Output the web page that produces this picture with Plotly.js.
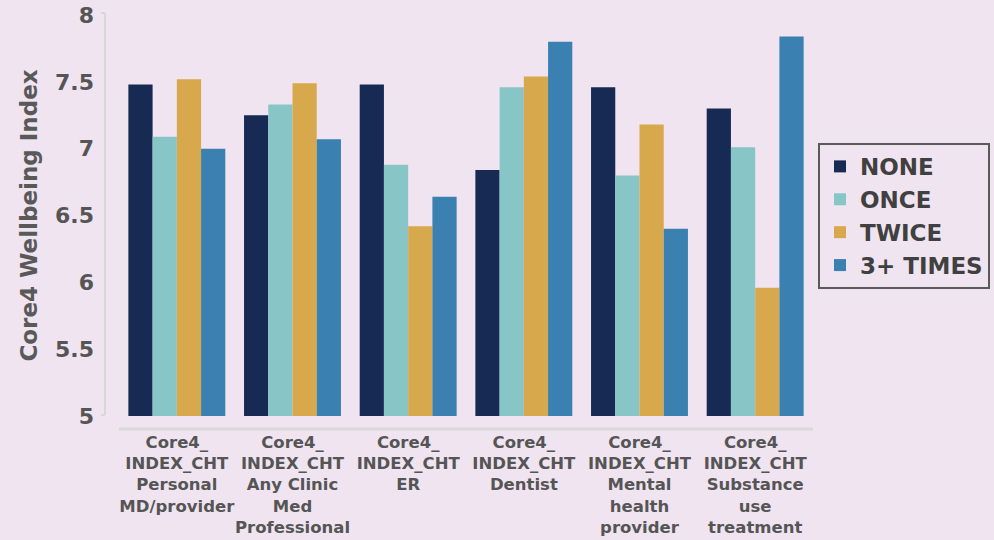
<!DOCTYPE html>
<html>
<head>
<meta charset="utf-8">
<script src="https://cdn.plot.ly/plotly-3.0.1.min.js"></script>
<style>html,body{margin:0;padding:0;background:#f0e4f1;}#chart{width:994px;height:540px;}</style>
</head>
<body>
<div id="chart"></div>
<script>
// Categories (x axis) and their multi-line tick labels
var categories = ["Personal MD/provider", "Any Clinic Med Professional", "ER", "Dentist", "Mental health provider", "Substance use treatment"];
var tickLabels = [
  "Core4_<br>INDEX_CHT<br>Personal<br>MD/provider",
  "Core4_<br>INDEX_CHT<br>Any Clinic<br>Med<br>Professional",
  "Core4_<br>INDEX_CHT<br>ER",
  "Core4_<br>INDEX_CHT<br>Dentist",
  "Core4_<br>INDEX_CHT<br>Mental<br>health<br>provider",
  "Core4_<br>INDEX_CHT<br>Substance<br>use<br>treatment"
];
// Series
var seriesNames = ["NONE", "ONCE", "TWICE", "3+ TIMES"];
var noneVals  = [7.48, 7.25, 7.48, 6.84, 7.46, 7.30];
var onceVals  = [7.09, 7.33, 6.88, 7.46, 6.80, 7.01];
var twiceVals = [7.52, 7.49, 6.42, 7.54, 7.18, 5.96];
var threeVals = [7.00, 7.07, 6.64, 7.80, 6.40, 7.84];
var colors = ["#162a53", "#88c5c6", "#d8a84c", "#3a80b1"];

var allVals = [noneVals, onceVals, twiceVals, threeVals];
var data = allVals.map(function (vals, i) {
  return {
    type: "bar",
    name: seriesNames[i],
    x: categories,
    y: vals,
    marker: {color: colors[i], line: {width: 0}},
    hoverinfo: "name+y"
  };
});

var FONT = "'DejaVu Sans', Verdana, sans-serif";
var layout = {
  width: 994, height: 540,
  paper_bgcolor: "#f0e4f1",
  plot_bgcolor: "#f0e4f1",
  margin: {l: 119, r: 181, t: 15, b: 124, pad: 0, autoexpand: false},
  barmode: "group",
  bargap: 0.162,
  bargroupgap: 0,
  showlegend: true,
  legend: {
    x: 1.0072, y: 0.681, xanchor: "left", yanchor: "top",
    bgcolor: "rgba(0,0,0,0)",
    bordercolor: "#5a5a5a", borderwidth: 2,
    font: {family: FONT, size: 23, color: "#404040", weight: "bold"},
    traceorder: "normal"
  },
  xaxis: {
    type: "category",
    tickmode: "array",
    tickvals: categories,
    ticktext: tickLabels,
    tickangle: 0,
    range: [-0.5, 5.5],
    showgrid: false, zeroline: false, showline: false,
    ticks: "",
    ticklabelstandoff: 14,
    tickfont: {family: FONT, size: 16.5, color: "#555555", weight: "bold"}
  },
  yaxis: {
    range: [5, 8],
    tickvals: [5, 5.5, 6, 6.5, 7, 7.5, 8],
    ticktext: ["5", "5.5", "6", "6.5", "7", "7.5", "8"],
    showgrid: false, zeroline: false, showline: false,
    ticks: "",
    ticklabelstandoff: 24,
    tickfont: {family: FONT, size: 22, color: "#555555", weight: "bold"},
    title: {text: "Core4 Wellbeing Index", standoff: 10,
            font: {family: FONT, size: 23, color: "#595959", weight: "bold"}}
  },
  shapes: [
    {type: "line", xref: "paper", yref: "paper", x0: -0.0202, x1: -0.0202, y0: 0.0025, y1: 1.005,
     line: {color: "#d8d8d8", width: 2}},
    {type: "line", xref: "paper", yref: "paper", x0: -0.026, x1: -0.0202, y0: 0.0025, y1: 0.0025,
     line: {color: "#d8d8d8", width: 2}},
    {type: "line", xref: "paper", yref: "paper", x0: -0.026, x1: -0.0202, y0: 1.005, y1: 1.005,
     line: {color: "#d8d8d8", width: 2}},
    {type: "line", xref: "paper", yref: "paper", x0: 0, x1: 1, y0: -0.0324, y1: -0.0324,
     line: {color: "#d9d9d9", width: 3}}
  ]
};

Plotly.newPlot("chart", data, layout, {displayModeBar: false, staticPlot: true});
</script>
</body>
</html>
